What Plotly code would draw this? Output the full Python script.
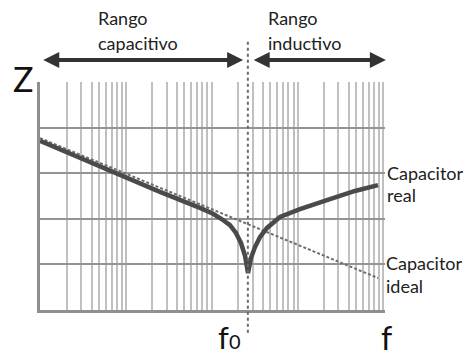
import plotly.graph_objects as go

# Diagram units: x in decades of frequency (log scale), y in decades of impedance
X_RANGE = [0, 4]
Y_RANGE = [0, 5]

# Vertical grid: one group of lines per decade (start of group + offsets inside it)
GROUP_STARTS = [0.31, 1.30, 2.30, 3.29]
GROUP_OFFSETS = [0, 0.17, 0.29, 0.37, 0.45, 0.52, 0.58, 0.64, 0.69]
# Horizontal grid levels
Y_GRID = [1, 2, 3, 4]

# Resonance frequency
F0 = 2.41

# Ideal capacitor: straight line falling with frequency
ideal_x = [0.0, 3.92]
ideal_y = [3.77, 0.70]

# Real capacitor: follows the ideal one, dips at f0, then rises (inductive)
real_x = [0.0, 0.464, 0.928, 1.391, 1.855, 2.006, 2.110, 2.203, 2.272, 2.330,
          2.377, 2.412, 2.446, 2.493, 2.551, 2.632, 2.783, 3.014, 3.362, 3.652, 3.919]
real_y = [3.71, 3.33, 2.96, 2.59, 2.24, 2.11, 1.99, 1.86, 1.69, 1.47,
          1.19, 0.81, 1.14, 1.38, 1.60, 1.80, 2.04, 2.21, 2.43, 2.61, 2.74]

x_grid = [s + o for s in GROUP_STARTS for o in GROUP_OFFSETS]

FONT = "Lato"

fig = go.Figure()

fig.add_trace(go.Scatter(
    x=ideal_x, y=ideal_y, mode="lines",
    line=dict(color="#6e6e6e", width=2, dash="3px,2px"),
    hoverinfo="skip", showlegend=False,
))
fig.add_trace(go.Scatter(
    x=real_x, y=real_y, mode="lines",
    line=dict(color="#4a4a4a", width=4.5),
    hoverinfo="skip", showlegend=False,
))

span = X_RANGE[1] - X_RANGE[0]
f0_paper = (F0 - X_RANGE[0]) / span

# Dotted marker of the resonance frequency, running past the plot area
fig.add_shape(type="line", xref="paper", yref="paper",
              x0=f0_paper, x1=f0_paper, y0=-0.10, y1=1.185,
              line=dict(color="#6a6a6a", width=2, dash="dot"))

# Range arrows above the grid
arrow_y = 1.096
arrows = [(0.02, F0 - 0.055), (F0 + 0.05, 4.01)]
for a0, a1 in arrows:
    fig.add_annotation(
        x=a1, y=arrow_y, xref="x", yref="paper",
        ax=a0, ay=0, axref="x", ayref="pixel",
        showarrow=True, arrowhead=2, startarrowhead=2, arrowside="end+start",
        arrowsize=0.8, startarrowsize=0.8, arrowwidth=4, arrowcolor="#333333",
        standoff=0, startstandoff=0, text="",
    )

# Text labels, one annotation per line so the line spacing stays tight
labels = [
    ("Rango", 0.163, 1.281, 18),
    ("capacitivo", 0.163, 1.171, 18),
    ("Rango", 0.656, 1.281, 18),
    ("inductivo", 0.656, 1.171, 18),
    ("Capacitor", 1.000, 0.600, 18),
    ("real", 1.000, 0.504, 18),
    ("Capacitor", 0.997, 0.205, 18),
    ("ideal", 0.997, 0.104, 18),
]
for text, x, y, size in labels:
    fig.add_annotation(text=text, x=x, y=y, xref="paper", yref="paper",
                       xanchor="left", yanchor="middle", align="left", showarrow=False,
                       font=dict(family=FONT, size=size, color="#222222"))

fig.add_annotation(text="Z", x=-0.085, y=1.112, xref="paper", yref="paper",
                   xanchor="left", yanchor="top", showarrow=False,
                   font=dict(family=FONT, size=34, color="#111111"))
# Resonance label sits right at the bottom edge: no padding around its box
fig.add_annotation(text="f<span style='font-size:20px'>0</span>", x=0.512, y=-0.207,
                   xref="paper", yref="paper", xanchor="left", yanchor="bottom",
                   borderpad=0, showarrow=False,
                   font=dict(family=FONT, size=31, color="#111111"))
fig.add_annotation(text="f", x=0.982, y=-0.026, xref="paper", yref="paper",
                   xanchor="left", yanchor="top", showarrow=False,
                   font=dict(family=FONT, size=32, color="#111111"))

fig.update_xaxes(
    range=X_RANGE, tickmode="array", tickvals=x_grid, showticklabels=False, ticks="",
    showgrid=True, gridcolor="#c0c0c0", gridwidth=2, zeroline=False,
    showline=True, linecolor="#8f8f8f", linewidth=3, fixedrange=True,
)
fig.update_yaxes(
    range=Y_RANGE, tickmode="array", tickvals=Y_GRID, showticklabels=False, ticks="",
    showgrid=True, gridcolor="#949494", gridwidth=2, zeroline=False,
    showline=True, linecolor="#8f8f8f", linewidth=3, fixedrange=True,
)

fig.update_layout(
    width=466, height=358,
    margin=dict(l=40, r=81, t=82, b=48),
    paper_bgcolor="white", plot_bgcolor="white",
    showlegend=False,
)

fig.write_html("out.html", config={"displayModeBar": False})
